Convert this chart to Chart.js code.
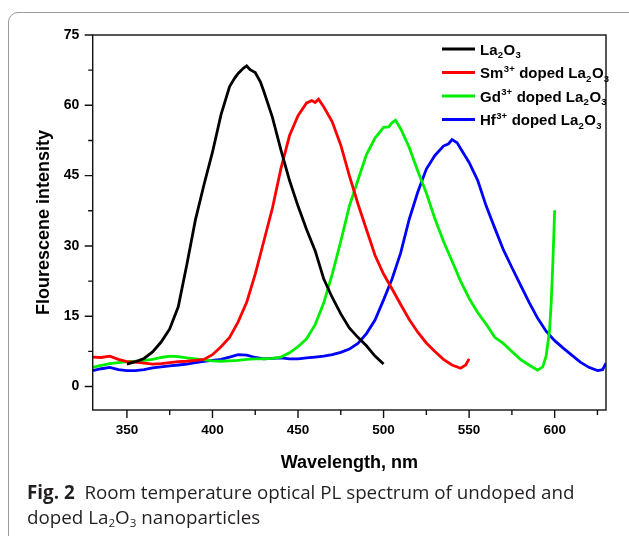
<!DOCTYPE html>
<html>
<head>
<meta charset="utf-8">
<script src="https://cdn.jsdelivr.net/npm/chart.js@4.4.0/dist/chart.umd.min.js"></script>
<style>
  html, body { margin: 0; padding: 0; background: #fff; }
  body { width: 629px; height: 536px; position: relative; overflow: hidden; }
  #frame { position: absolute; left: 8px; top: 12px; width: 700px; height: 600px;
           border: 1px solid #9a9a9a; border-radius: 10px; box-sizing: border-box; }
  #wrap { position: absolute; left: 0; top: 0; width: 629px; height: 480px; }
  #cap { position: absolute; left: 27px; top: 480px; font-family: "Open Sans", sans-serif;
         color: #231f20; font-size: 18px; line-height: 25px; white-space: nowrap; }
  #cap b { font-weight: 700; }
  #cap sub { font-size: 0.62em; vertical-align: -0.25em; line-height: 0; }
</style>
</head>
<body>
<div id="frame"></div>
<div id="wrap"><canvas id="c" width="629" height="480"></canvas></div>
<div id="cap"><div id="l1"><b>Fig. 2</b>&nbsp; Room temperature optical PL spectrum of undoped and</div><div id="l2">doped La<sub>2</sub>O<sub>3</sub> nanoparticles</div></div>
<script>
// ---- data ----
const xTickValues = [350, 400, 450, 500, 550, 600];
const yTickValues = [0, 15, 30, 45, 60, 75];

const wlLa = [350,355,360,365,370,375,380,385,390,395,400,405,410,413,415,418,420,422,425,428,430,435,440,445,450,455,460,465,470,475,480,485,490,495,500];
const La   = [4.8,5.3,6.0,7.4,9.5,12.3,17.0,26.0,35.5,43.0,50.0,58.0,64.0,65.8,66.8,67.9,68.4,67.6,67.0,65.0,63.0,57.5,50.5,44.0,38.5,33.5,29.0,23.0,19.0,15.5,12.5,10.5,8.7,6.5,4.8];

const wlSm = [330,335,340,345,350,355,360,365,370,375,380,385,390,395,400,405,410,415,420,425,430,435,440,445,450,455,458,460,462,465,470,475,480,485,490,495,500,505,510,515,520,525,530,535,540,545,548,550];
const Sm   = [6.3,6.2,6.5,5.8,5.3,5.2,5.0,4.8,4.9,5.1,5.3,5.4,5.6,5.8,6.8,8.5,10.5,13.8,18.0,24.0,31.0,38.0,46.5,53.5,57.8,60.5,61.0,60.6,61.3,59.7,56.5,51.5,45.0,39.0,33.5,28.0,24.0,20.8,17.5,14.3,11.6,9.3,7.5,5.8,4.6,3.9,4.6,5.9];

const wlGd = [330,335,340,345,350,355,360,365,370,375,380,385,390,395,400,405,410,415,420,425,430,435,440,445,450,455,460,465,470,475,480,485,490,495,500,503,505,507,510,515,520,525,530,535,540,545,550,555,560,565,570,575,580,585,590,593,595,597,598,599,600];
const Gd   = [4.1,4.5,4.9,5.1,5.3,5.4,5.6,5.8,6.2,6.5,6.4,6.1,5.9,5.7,5.5,5.4,5.5,5.6,5.8,5.9,5.9,6.0,6.3,7.2,8.5,10.2,13.2,17.8,24.0,31.0,38.5,44.0,49.5,53.0,55.3,55.4,56.3,56.8,55.0,51.0,46.0,41.3,35.8,31.0,26.8,22.5,18.8,15.8,13.3,10.5,9.2,7.5,5.8,4.6,3.5,4.2,6.5,12.0,18.0,27.0,37.6];

const wlHf = [330,335,340,345,350,355,360,365,370,375,380,385,390,395,400,405,410,415,420,425,430,435,440,445,450,455,460,465,470,475,480,485,490,495,500,505,510,515,520,525,530,535,538,540,543,545,550,555,560,565,570,575,580,585,590,595,600,605,610,615,620,625,628,630];
const Hf   = [3.4,3.8,4.1,3.6,3.4,3.4,3.6,4.0,4.2,4.4,4.6,4.8,5.1,5.4,5.6,5.8,6.3,6.8,6.7,6.2,5.9,6.0,6.1,5.9,5.9,6.1,6.3,6.5,6.8,7.3,8.0,9.2,11.3,14.2,18.5,23.0,28.5,35.7,41.5,46.4,49.3,51.3,51.8,52.7,52.0,50.8,47.8,44.0,38.5,33.8,29.2,25.4,21.7,18.0,14.6,11.8,9.8,8.2,6.7,5.2,4.1,3.4,3.6,5.0];

const seriesNames = ["La2O3", "Sm3+ doped La2O3", "Gd3+ doped La2O3", "Hf3+ doped La2O3"];
const seriesColors = ["#000000", "#ff0000", "#00ee00", "#0000ff"];

function pts(xs, ys) { return xs.map((x, i) => ({x: x, y: ys[i]})); }

// legend label pieces: [text, mode] mode: n normal, u sup, d sub
const legendParts = [
  [["La","n"],["2","d"],["O","n"],["3","d"]],
  [["Sm","n"],["3+","u"],[" doped La","n"],["2","d"],["O","n"],["3","d"]],
  [["Gd","n"],["3+","u"],[" doped La","n"],["2","d"],["O","n"],["3","d"]],
  [["Hf","n"],["3+","u"],[" doped La","n"],["2","d"],["O","n"],["3","d"]]
];

const FONT = '"Liberation Sans", Arial, sans-serif';

const decor = {
  id: 'decor',
  afterDatasetsDraw(chart) {
    const ctx = chart.ctx, a = chart.chartArea;
    const xs = chart.scales.x, ys = chart.scales.y;
    ctx.save();
    ctx.strokeStyle = '#111';
    ctx.lineWidth = 1.4;
    ctx.strokeRect(a.left, a.top, a.right - a.left, a.bottom - a.top);
    ctx.beginPath();
    for (let v = 350; v <= 625; v += 25) {
      const px = xs.getPixelForValue(v);
      const len = (v % 50 === 0) ? 8 : 5;
      ctx.moveTo(px, a.bottom); ctx.lineTo(px, a.bottom + len);
    }
    for (let v = 0; v <= 75; v += 7.5) {
      const py = ys.getPixelForValue(v);
      const len = (v % 15 === 0) ? 8 : 4.5;
      ctx.moveTo(a.left, py); ctx.lineTo(a.left - len, py);
    }
    ctx.stroke();
    // legend
    const lx0 = 442, lx1 = 475, tx = 480, y0 = 49, dy = 23.5;
    legendParts.forEach((parts, i) => {
      const y = y0 + i * dy;
      ctx.strokeStyle = seriesColors[i];
      ctx.lineWidth = 3;
      ctx.beginPath(); ctx.moveTo(lx0, y); ctx.lineTo(lx1, y); ctx.stroke();
      let x = tx;
      ctx.fillStyle = '#000';
      ctx.textBaseline = 'alphabetic';
      ctx.textAlign = 'left';
      const base = y + 5.5;
      parts.forEach(([t, m]) => {
        if (m === 'n') { ctx.font = 'bold 15px ' + FONT; ctx.fillText(t, x, base); }
        else if (m === 'u') { ctx.font = 'bold 9.5px ' + FONT; ctx.fillText(t, x + 0.5, base - 6.5); }
        else { ctx.font = 'bold 9.5px ' + FONT; ctx.fillText(t, x + 0.3, base + 3.5); }
        x += ctx.measureText(t).width + (m === 'n' ? 0 : 0.8);
      });
    });
    ctx.restore();
  }
};

const datasets = [
  {data: pts(wlLa, La)}, {data: pts(wlSm, Sm)}, {data: pts(wlGd, Gd)}, {data: pts(wlHf, Hf)}
].map((d, i) => Object.assign(d, {
  label: seriesNames[i], borderColor: seriesColors[i], backgroundColor: seriesColors[i],
  borderWidth: 2.8, pointRadius: 0, tension: 0, fill: false
}));

new Chart(document.getElementById('c'), {
  type: 'line',
  data: { datasets: datasets },
  options: {
    responsive: false, animation: false,
    layout: { padding: { top: 35, right: 23, left: 0, bottom: 0 } },
    plugins: { legend: { display: false }, tooltip: { enabled: false } },
    scales: {
      x: {
        type: 'linear', min: 330, max: 630,
        afterBuildTicks: s => { s.ticks = xTickValues.map(v => ({value: v})); },
        afterFit: s => { s.height = 70; },
        grid: { color: 'rgba(0,0,0,0)', drawOnChartArea: false, tickLength: 8 },
        border: { display: false },
        ticks: { color: '#000', padding: 4.5, maxRotation: 0, autoSkip: false,
                 font: { family: FONT, size: 13.5, weight: 'bold' } },
        title: { display: true, text: 'Wavelength, nm', color: '#000',
                 font: { family: FONT, size: 18, weight: 'bold' }, padding: { top: 0, bottom: 6 } }
      },
      y: {
        type: 'linear', min: -5, max: 75,
        afterBuildTicks: s => { s.ticks = yTickValues.map(v => ({value: v})); },
        afterFit: s => { s.width = 92.7; },
        grid: { color: 'rgba(0,0,0,0)', drawOnChartArea: false, tickLength: 8 },
        border: { display: false },
        ticks: { color: '#000', padding: 5.4, autoSkip: false,
                 font: { family: FONT, size: 14, weight: 'bold' } },
        title: { display: true, text: 'Flourescene intensity', color: '#000',
                 font: { family: FONT, size: 18, weight: 'bold' }, padding: { top: 33, bottom: 0 } }
      }
    }
  },
  plugins: [decor]
});

// fit caption line 1 to the reference width
(function fitCaption() {
  const cap = document.getElementById('cap');
  const l1 = document.getElementById('l1');
  const r = document.createRange(); r.selectNodeContents(l1);
  const w = r.getBoundingClientRect().width;
  const target = 548;
  cap.style.fontSize = (18 * target / w).toFixed(2) + 'px';
})();
</script>
</body>
</html>
